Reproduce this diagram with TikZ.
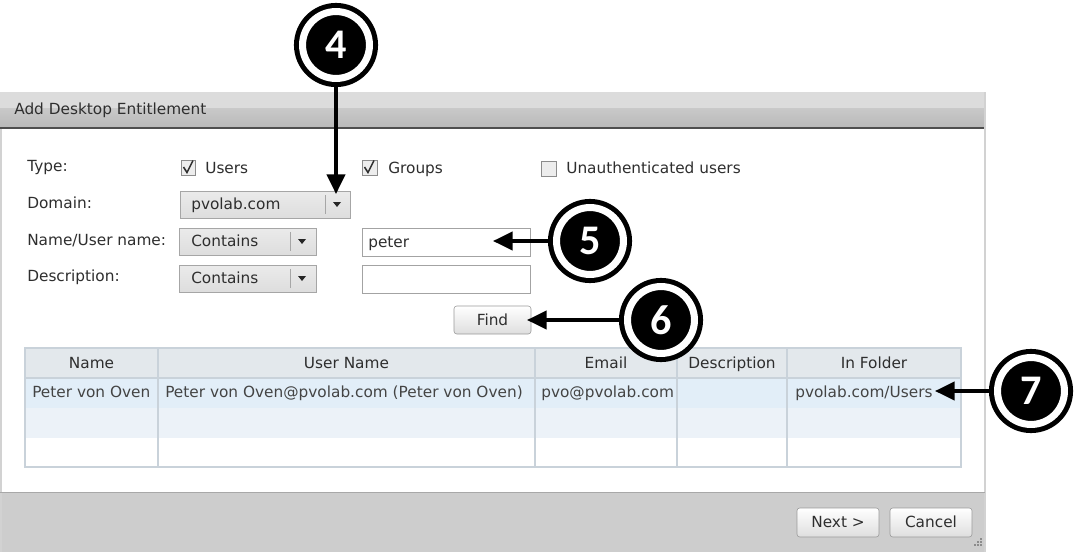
\documentclass[tikz,border=0pt]{standalone}
\usepackage{fontspec}
\usepackage{xcolor}
\usetikzlibrary{arrows.meta}
\newfontfamily\uifont{DejaVu Sans}
\newfontfamily\numfont{Carlito}
\newcommand{\uitext}{\uifont\fontsize{10.9}{13}\selectfont}
\definecolor{uitxt}{HTML}{2E2E2E}
\definecolor{celltxt}{HTML}{444444}
\definecolor{hdtop}{HTML}{DCDCDC}
\definecolor{hdmid}{HTML}{C9C9C9}
\definecolor{hdbot}{HTML}{B9B9B9}
\definecolor{hdline}{HTML}{4E4E4E}
\definecolor{edgecol}{HTML}{D2D2D2}
\definecolor{footfill}{HTML}{CDCDCD}
\definecolor{chkline}{HTML}{8C8C8C}
\definecolor{chkfill}{HTML}{EDEDED}
\definecolor{ddline}{HTML}{A6A6A6}
\definecolor{ddtop}{HTML}{EBEBEB}
\definecolor{ddbot}{HTML}{DDDDDD}
\definecolor{inline}{HTML}{A3A3A3}
\definecolor{btnline}{HTML}{9A9A9A}
\definecolor{btnbot}{HTML}{DEDEDE}
\definecolor{gridcol}{HTML}{C9D2DA}
\definecolor{thfill}{HTML}{E3E8EC}
\definecolor{rowone}{HTML}{E2EEF8}
\definecolor{rowtwo}{HTML}{ECF2F8}
\begin{document}
\begin{tikzpicture}[x=0.025cm, y=-0.025cm,
  lbl/.style={anchor=west, inner sep=0, text height=7.9pt, text depth=0pt, font=\uitext, text=uitxt},
  ctr/.style={inner sep=0, text height=7.9pt, text depth=0pt, font=\uitext, text=uitxt},
  cell/.style={anchor=west, inner sep=0, text height=7.9pt, text depth=0pt, font=\uitext, text=celltxt},
  chk/.style={draw=chkline, fill=chkfill},
  tick/.style={draw=uitxt, line width=1.1pt},
  dropbox/.style={draw=ddline, top color=ddtop, bottom color=ddbot},
  inbox/.style={draw=inline, fill=white},
  btnbox/.style={draw=btnline, rounded corners=2pt, top color=white, bottom color=btnbot},
  gridline/.style={draw=gridcol, line width=0.8pt},
  callout/.style={circle, fill=black, draw=black, double=white, line width=3.6pt,
    double distance=5pt, minimum size=47.6pt, inner sep=0, outer sep=6pt,
    text=white, font=\numfont\bfseries\fontsize{30}{30}\selectfont},
  pointer/.style={line width=2.5pt, -{Triangle[length=14pt, width=13pt]}}]
\useasboundingbox (0,0) rectangle (1074,552);
\fill[white] (0,92) rectangle (985,552);
\fill[hdtop] (0,92) rectangle (985,108);
\shade[top color=hdmid, bottom color=hdbot] (0,108) rectangle (985,127);
\fill[hdline] (0,127) rectangle (985,129);
\fill[footfill] (0,492) rectangle (985,552);
\draw[edgecol, line width=1.4pt] (1,129) -- (1,552);
\draw[edgecol, line width=1.4pt] (985,92) -- (985,552);
\draw[edgecol!80!black] (0,492) -- (985,492);
\node[lbl] (title) at (14,109) {Add Desktop Entitlement};

\node[lbl] (type) at (27,166) {Type:};
\node[lbl] (domain) at (27,203) {Domain:};
\node[lbl] (uname) at (27,240) {Name/User name:};
\node[lbl] (desc) at (27,276) {Description:};

\draw[chk] (181,160) rectangle (195,175);
\draw[tick] (183.5,167) -- (187,172.5) -- (193,160.5);
\node[lbl] (users) at (205,168) {Users};
\draw[chk] (362,160) rectangle (377,175);
\draw[tick] (364.5,167) -- (368,172.5) -- (374,160.5);
\node[lbl] (groups) at (388,168) {Groups};
\draw[chk] (541,161) rectangle (556,176);
\node[lbl] (unauth) at (566,168) {Unauthenticated users};

\draw[dropbox] (180,191) rectangle (350,218);
\draw[ddline] (325,195) -- (325,214);
\fill[black!85] (333,202) -- (341,202) -- (337,207) -- cycle;
\node[lbl] (domval) at (191,204) {pvolab.com};
\draw[dropbox] (179,228) rectangle (316,255);
\draw[ddline] (290,232) -- (290,251);
\fill[black!85] (298,239) -- (306,239) -- (302,244) -- cycle;
\node[lbl] (cont1) at (191,241) {Contains};
\draw[dropbox] (179,265) rectangle (316,292);
\draw[ddline] (290,269) -- (290,288);
\fill[black!85] (298,276) -- (306,276) -- (302,281) -- cycle;
\node[lbl] (cont2) at (191,278) {Contains};
\draw[inbox] (362,228) rectangle (530,256);
\node[lbl] (peter) at (368,242) {peter};
\draw[inbox] (362,265) rectangle (530,293);

\draw[btnbox] (454,306) rectangle (531,334);
\node[ctr] (find) at (492.5,320) {Find};

\fill[thfill] (25,348) rectangle (961,378);
\fill[rowone] (25,378) rectangle (961,408);
\fill[rowtwo] (25,408) rectangle (961,438);
\draw[gridline] (25,348) rectangle (961,467);
\draw[gridline] (25,378) -- (961,378);
\foreach \cx in {158,535,677,787}
  \draw[gridline] (\cx,348) -- (\cx,467);
\node[ctr] (nameH) at (91.5,363) {Name};
\node[ctr] (userH) at (346.5,363) {User Name};
\node[ctr] (emailH) at (606,363) {Email};
\node[ctr] (descH) at (732,363) {Description};
\node[ctr] (folderH) at (874,363) {In Folder};
\node[cell] (nameC) at (32,392) {Peter von Oven};
\node[cell] (userC) at (165,392) {Peter von Oven@pvolab.com (Peter von Oven)};
\node[cell] (emailC) at (541,392) {pvo@pvolab.com};
\node[cell] (folderC) at (795,392) {pvolab.com/Users};

\draw[btnbox] (797,508) rectangle (879,537);
\node[ctr] (next) at (838,522) {Next >};
\draw[btnbox] (890,508) rectangle (972,537);
\node[ctr] (cancel) at (931,522) {Cancel};
\foreach \gx/\gy in {981/539,978/542,981/542,975/545,978/545,981/545}
  \fill[black!45] (\gx-0.8,\gy-0.8) rectangle (\gx+0.8,\gy+0.8);

\node[callout] (c4) at (336,45) {4};
\node[callout] (c5) at (590,241) {5};
\node[callout] (c6) at (661,320) {6};
\node[callout] (c7) at (1031,391) {7};
\coordinate (t4) at (336,194);
\coordinate (t5) at (493,241);
\coordinate (t6) at (527,320);
\coordinate (t7) at (935,391);

\draw[pointer] (c4) -- (t4);
\draw[pointer] (c5) -- (t5);
\draw[pointer] (c6) -- (t6);
\draw[pointer] (c7) -- (t7);
\end{tikzpicture}
\end{document}
